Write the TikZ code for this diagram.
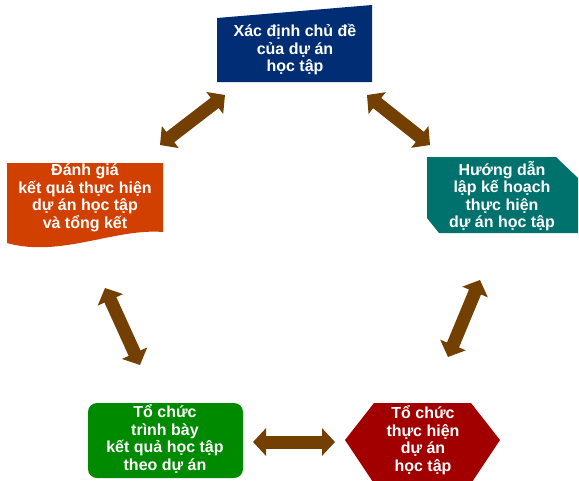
\documentclass[tikz,border=0pt]{standalone}
\usepackage{fontspec}
\setmainfont{Liberation Sans}
\usetikzlibrary{arrows.meta}

\definecolor{navybox}{RGB}{0,45,115}
\definecolor{rustbox}{RGB}{210,64,0}
\definecolor{tealbox}{RGB}{0,114,110}
\definecolor{greenbox}{RGB}{0,138,0}
\definecolor{redbox}{RGB}{162,0,0}
\definecolor{arrowbrown}{RGB}{115,64,2}

\tikzstyle{boxtext}=[text=white,font=\bfseries\fontsize{16}{17.5}\selectfont,align=center,inner sep=0pt]
\tikzstyle{link} = [draw=arrowbrown,line width=13pt,{Triangle[length=13pt,width=27pt]}-{Triangle[length=13pt,width=27pt]}]

\begin{document}
\begin{tikzpicture}[x=1pt,y=-1pt]
			\useasboundingbox (0,0) rectangle (579,480);
			% box outlines
			\fill[navybox] (217,18) -- (372,5) -- (372,82) -- (217,82) -- cycle;
			\fill[rustbox] (7,163) -- (163,163) -- (163,232) .. controls (115,228) and (60,258) .. (7,243) -- cycle;
			\fill[tealbox] (427,157) -- (556,157) -- (578,178) -- (578,233) -- (439,233) -- (427,218) -- cycle;
			\fill[greenbox,rounded corners=9pt] (88,403) rectangle (243,478);
			\fill[redbox] (345,440) -- (374,403) -- (471,403) -- (500,440) -- (472,482) -- (373,482) -- cycle;
			% texts
			\node[boxtext] (t) at (295,50) {Xác định chủ đề\\của dự án\\học tập};
			\node[boxtext] (r) at (85,198) {Đánh giá\\kết quả thực hiện\\dự án học tập\\và tổng kết};
			\node[boxtext] (h) at (502,196) {Hướng dẫn\\lập kế hoạch\\thực hiện\\dự án học tập};
			\node[boxtext] (p) at (165,439) {Tổ chức\\trình bày\\kết quả học tập\\theo dự án};
			\node[boxtext] (c) at (423,440) {Tổ chức\\thực hiện\\dự án\\học tập};
			% arrow ends
			\coordinate (tl1) at (160,145);
			\coordinate (tl2) at (225,95);
			\coordinate (tr1) at (367,95);
			\coordinate (tr2) at (430,145);
			\coordinate (lv1) at (105,288);
			\coordinate (lv2) at (140,365);
			\coordinate (rv1) at (480,280);
			\coordinate (rv2) at (448,357);
			\coordinate (bh1) at (253,442);
			\coordinate (bh2) at (335,442);
			% double arrows between the steps
			\foreach \source/ \dest in {tl1/tl2, tr1/tr2, lv1/lv2, rv1/rv2, bh1/bh2}
				\path[link] (\source) -- (\dest);
		\end{tikzpicture}
\end{document}
